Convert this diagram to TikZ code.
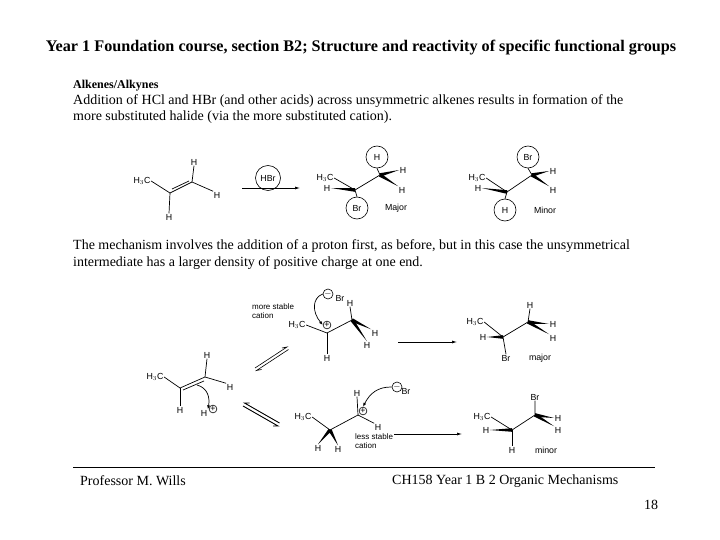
\documentclass[tikz,border=0pt]{standalone}
\usepackage{fontspec}
\setmainfont{Liberation Serif}
\newfontfamily\chemf{Liberation Sans}
\usetikzlibrary{calc,arrows.meta}
\newcommand\wdgb[2]{\fill #1 -- ($#2!1.8pt!90:#1$) -- ($#2!1.8pt!-90:#1$) -- cycle;}
\begin{document}
\begin{tikzpicture}[x=1pt,y=-1pt,
  ch/.style={font=\chemf\fontsize{8.8}{9}\selectfont,inner sep=0.5pt},
  lab/.style={font=\chemf\fontsize{8}{8.5}\selectfont,inner sep=0pt,align=left,anchor=west},
  txt/.style={font=\fontsize{14}{16}\selectfont,inner sep=0,anchor=west},
  bd/.style={line width=0.7pt},
  circ/.style={draw,circle,line width=0.6pt},
  rxn/.style={line width=0.7pt,-{Latex[length=5pt,width=3pt]}},
  curly/.style={line width=0.7pt,-{Latex[length=4pt,width=3pt]}}]
\useasboundingbox (0,0) rectangle (720,540);
\node[txt,anchor=center,font=\bfseries\fontsize{16.2}{17}\selectfont] (hdr) at (361,48) {Year 1 Foundation course, section B2; Structure and reactivity of specific functional groups};
\node[txt,font=\bfseries\fontsize{12}{13}\selectfont] (t0) at (73,86) {Alkenes/Alkynes};
\node[txt] (t1) at (73,101) {Addition of HCl and HBr (and other acids) across unsymmetric alkenes results in formation of the};
\node[txt] (t2) at (73,117) {more substituted halide (via the more substituted cation).};
\node[txt] (t3) at (73,246) {The mechanism involves the addition of a proton first, as before, but in this case the unsymmetrical};
\node[txt] (t4) at (73,263) {intermediate has a larger density of positive charge at one end.};
\draw[line width=0.6pt] (73,467) coordinate (fl) -- (655,467) coordinate (fr);
\node[txt] (f1) at (80,481) {Professor M. Wills};
\node[txt] (f2) at (392,481) {CH158 Year 1 B 2 Organic Mechanisms};
\node[txt] (f3) at (644,505) {18};

% top alkene
\node[ch] (a1) at (142,181) {H$_3$C};
\coordinate (ac2) at (170,193); \coordinate (ac1) at (192,182);
\node[ch] (a2) at (194,162) {H};
\node[ch] (a3) at (217,195) {H};
\node[ch] (a4) at (169,217) {H};
\draw[bd] (a1.east) -- (ac2) -- (ac1) -- (a2.south);
\draw[bd] ($(ac2)+(2,-4)$) -- ($(ac1)+(-3,-1)$);
\draw[bd] (ac1) -- (a3.north west);
\draw[bd] (ac2) -- (a4.north);
% arrow HBr
\coordinate (ra) at (242,188); \coordinate (rb) at (300,188);
\draw[rxn] (ra) -- (rb);
\node[ch,circ,minimum size=25pt] (hbr) at (268,178) {HBr};
% major
\node[ch] (m1) at (325,178) {H$_3$C};
\coordinate (mc2) at (355,190); \coordinate (mc1) at (380,175);
\node[ch] (m2) at (327,188) {H};
\node[ch,circ,minimum size=22pt] (m3) at (357,208) {Br};
\node[ch,circ,minimum size=22pt] (m4) at (377,157) {H};
\node[ch] (m5) at (403,170) {H};
\node[ch] (m6) at (402,190) {H};
\node[ch] (m7) at (396,208) {Major};
\draw[bd] (m1.east) -- (mc2) -- (mc1) -- (m4.south);
\draw[bd] (mc2) -- (m3.north);
\wdgb{(m2.east)}{(mc2)}
\wdgb{(m5.west)}{(mc1)}
\wdgb{(m6.north west)}{(mc1)}
% minor
\node[ch] (n1) at (477,178) {H$_3$C};
\coordinate (nc2) at (507,192); \coordinate (nc1) at (532,175);
\node[ch] (n2) at (478,188) {H};
\node[ch,circ,minimum size=22pt] (n3) at (528,157) {Br};
\node[ch,circ,minimum size=22pt] (n4) at (505,210) {H};
\node[ch] (n5) at (553,171) {H};
\node[ch] (n6) at (553,190) {H};
\node[ch] (n7) at (545,210) {Minor};
\draw[bd] (n1.east) -- (nc2) -- (nc1) -- (n3.south);
\draw[bd] (nc2) -- (n4.north);
\wdgb{(n2.east)}{(nc2)}
\wdgb{(n5.west)}{(nc1)}
\wdgb{(n6.north west)}{(nc1)}

% mechanism alkene
\node[ch] (b1) at (155,377) {H$_3$C};
\coordinate (bc2) at (180,388); \coordinate (bc1) at (205,377);
\node[ch] (b2) at (207,355) {H};
\node[ch] (b3) at (230,387) {H};
\node[ch] (b4) at (180,410) {H};
\node[ch] (b5) at (204,413) {H};
\node[ch,circ,inner sep=0.2pt] (b6) at (213,409) {+};
\draw[bd] (b1.east) -- (bc2) -- (bc1) -- (b2.south);
\draw[bd] ($(bc2)+(3,2)$) -- ($(bc1)+(-1,4)$);
\draw[bd] (bc1) -- (b3.north west);
\draw[bd] (bc2) -- (b4.north);
\coordinate (cs1) at (197,385);
\draw[curly] (cs1) .. controls (208,388) and (210,398) .. (b5.north east);
% equilibrium arrows
\coordinate (e1a) at (255,368); \coordinate (e1b) at (287,347);
\draw[line width=0.6pt] (e1a) -- (e1b) -- ++(-5,1);
\draw[line width=0.6pt] ($(e1b)+(1.5,2.5)$) -- ($(e1a)+(1.5,2.5)$) -- ++(5,-1);
\coordinate (e2a) at (243,406); \coordinate (e2b) at (278,426);
\draw[line width=0.9pt] (e2a) -- (e2b) -- ++(-5,0);
\draw[line width=0.9pt] ($(e2b)+(1.5,-3)$) -- ($(e2a)+(1.5,-3)$) -- ++(5,0);

% more stable cation
\node[lab] (s0) at (252,307) {more stable};
\node[lab] (s0b) at (252,316) {cation};
\node[ch] (s1) at (297,325) {H$_3$C};
\coordinate (sc2) at (327,333); \coordinate (sc1) at (352,320);
\node[ch,circ,inner sep=0.2pt] (s2) at (327,325) {+};
\node[ch] (s3) at (350,303) {H};
\node[ch] (s4) at (375,333) {H};
\node[ch] (s5) at (367,345) {H};
\node[ch] (s6) at (327,358) {H};
\node[ch,circ,inner sep=0.2pt] (s7) at (328,294) {$-$};
\node[ch] (s8) at (340,298) {Br};
\draw[bd] (s1.east) -- (sc2) -- (sc1) -- (s3.south);
\draw[bd] (sc2) -- (s6.north);
\wdgb{(s4.north west)}{(sc1)}
\wdgb{(s5.north)}{(sc1)}
\draw[curly] (s7.west) .. controls (312,298) and (312,312) .. (s2.west);
% less stable cation
\node[ch] (l1) at (303,417) {H$_3$C};
\coordinate (lc2) at (330,430); \coordinate (lc1) at (358,415);
\node[ch,circ,inner sep=0.2pt] (l2) at (363,411) {+};
\node[ch] (l3) at (357,393) {H};
\node[ch] (l4) at (378,427) {H};
\node[ch] (l5) at (318,448) {H};
\node[ch] (l6) at (338,449) {H};
\node[lab] (l7) at (355,437) {less stable};
\node[lab] (l7b) at (355,446) {cation};
\node[ch,circ,inner sep=0.2pt] (l8) at (397,387) {$-$};
\node[ch] (l9) at (406,391) {Br};
\draw[bd] (l1.east) -- (lc2) -- (lc1) -- (l3.south);
\draw[bd] (lc1) -- (l4.north west);
\wdgb{(l5.north)}{(lc2)}
\wdgb{(l6.north)}{(lc2)}
\draw[curly] (l8.west) -- (391,387) .. controls (378,387) and (370,393) .. (l2.north);
% arrows to products
\coordinate (p1a) at (398,342); \coordinate (p1b) at (457,342);
\draw[rxn] (p1a) -- (p1b);
\coordinate (p2b) at (462,434);
\draw[rxn] ([xshift=1pt]l7.east |- p2b) -- (p2b);
% major product
\node[ch] (q1) at (475,322) {H$_3$C};
\coordinate (qc2) at (503,337); \coordinate (qc1) at (528,322);
\node[ch] (q2) at (530,305) {H};
\node[ch] (q3) at (553,324) {H};
\node[ch] (q4) at (553,338) {H};
\node[ch] (q5) at (483,337) {H};
\node[ch] (q6) at (506,358) {Br};
\node[ch] (q7) at (540,358) {major};
\draw[bd] (q1.east) -- (qc2) -- (qc1) -- (q2.south);
\draw[bd] (qc2) -- (q6.north);
\wdgb{(q5.east)}{(qc2)}
\wdgb{(q3.west)}{(qc1)}
\wdgb{(q4.north west)}{(qc1)}
% minor product
\node[ch] (r1) at (482,417) {H$_3$C};
\coordinate (rc2) at (512,430); \coordinate (rc1) at (535,415);
\node[ch] (r2) at (535,397) {Br};
\node[ch] (r3) at (558,418) {H};
\node[ch] (r4) at (558,430) {H};
\node[ch] (r5) at (486,430) {H};
\node[ch] (r6) at (512,450) {H};
\node[ch] (r7) at (546,450) {minor};
\draw[bd] (r1.east) -- (rc2) -- (rc1) -- (r2.south);
\draw[bd] (rc2) -- (r6.north);
\wdgb{(r5.east)}{(rc2)}
\wdgb{(r3.west)}{(rc1)}
\wdgb{(r4.north west)}{(rc1)}
\end{tikzpicture}
\end{document}
